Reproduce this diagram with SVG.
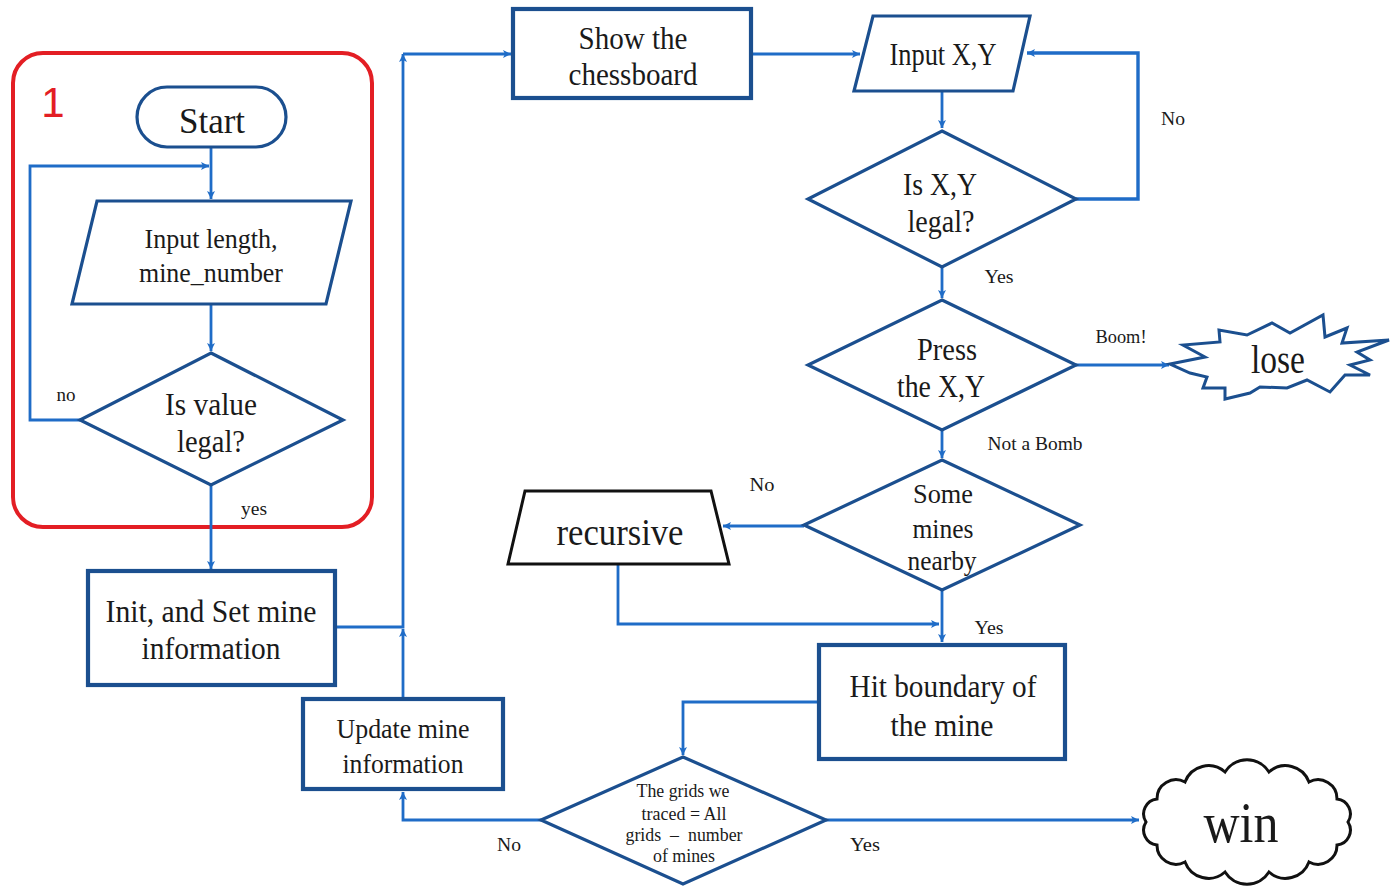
<svg xmlns="http://www.w3.org/2000/svg" width="1391" height="886" viewBox="0 0 1391 886">
<defs>
<marker id="ah" viewBox="0 0 10 10" refX="10" refY="5" markerWidth="9" markerHeight="8" markerUnits="userSpaceOnUse" orient="auto">
<path d="M0,0 L10,5 L0,10 L2.5,5 z" fill="#1f6cc7"/>
</marker>
<style>
.n{fill:#fff;stroke:#1b4f8f;stroke-width:3.2;stroke-linejoin:miter}
.b{fill:#fff;stroke:#1b4f8f;stroke-width:4.2}
.k{fill:#fff;stroke:#111;stroke-width:3}
.c{fill:none;stroke:#1f6cc7;stroke-width:2.8}
.a{marker-end:url(#ah)}
text{font-family:"Liberation Serif","Times New Roman",serif;fill:#1a1a1a;text-anchor:middle}
.t30{font-size:31px}
.t28{font-size:28px}
.t18{font-size:19px}
.t19{font-size:18px}
</style>
</defs>
<rect width="1391" height="886" fill="#fff"/>

<g id="group1">
<rect x="13" y="53" width="359" height="474" rx="30" fill="none" stroke="#e31e24" stroke-width="4"/>
<text x="53" y="117" style="font-family:'Liberation Sans',Arial,sans-serif;font-size:42px;fill:#e31e24">1</text>
</g>

<g id="connectors">
<path class="c a" d="M211,147 V199"/>
<path class="c a" d="M80,420 H30 V166 H209"/>
<path class="c a" d="M211,304 V351"/>
<path class="c a" d="M211,485 V569"/>
<path class="c a" d="M403,699 V629"/>
<path class="c a" d="M335,627 H403 V54"/>
<path class="c a" d="M403,54 H511"/>
<path class="c a" d="M751,54 H860"/>
<path class="c a" d="M942,91 V128"/>
<path class="c a" d="M1076,199 H1138 V53 H1027" style="stroke-width:3.4"/>
<path class="c a" d="M942,267 V298"/>
<path class="c a" d="M1076,365 H1169"/>
<path class="c a" d="M942,430 V458"/>
<path class="c a" d="M804,526 H723"/>
<path class="c a" d="M618,564 V624 H939"/>
<path class="c a" d="M942,590 V642"/>
<path class="c a" d="M819,702 H683 V755"/>
<path class="c a" d="M541,820 H403 V792"/>
<path class="c a" d="M826,820 H1139"/>
</g>

<g id="start">
<rect class="n" x="137" y="87" width="149" height="60" rx="30"/>
<text x="212" y="133" style="font-size:36px" textLength="66" lengthAdjust="spacingAndGlyphs">Start</text>
</g>

<g id="input-length">
<polygon class="n" points="97,201 351,201 326,304 72,304"/>
<text class="t28" x="211" y="248" textLength="133" lengthAdjust="spacingAndGlyphs">Input length,</text>
<text class="t28" x="211" y="282" textLength="144" lengthAdjust="spacingAndGlyphs">mine_number</text>
</g>

<g id="is-value-legal">
<polygon class="n" points="211,353 343,420 211,485 80,420"/>
<text class="t30" x="211" y="415" textLength="92" lengthAdjust="spacingAndGlyphs">Is value</text>
<text class="t30" x="211" y="452" textLength="68" lengthAdjust="spacingAndGlyphs">legal?</text>
</g>

<g id="labels">
<text class="t18" x="66" y="401" textLength="19" lengthAdjust="spacingAndGlyphs">no</text>
<text class="t18" x="254" y="515" textLength="26" lengthAdjust="spacingAndGlyphs">yes</text>
<text class="t18" x="1173" y="125" textLength="24" lengthAdjust="spacingAndGlyphs">No</text>
<text class="t18" x="999" y="283" textLength="29" lengthAdjust="spacingAndGlyphs">Yes</text>
<text class="t18" x="1121" y="343" textLength="51" lengthAdjust="spacingAndGlyphs">Boom!</text>
<text class="t18" x="1035" y="450" textLength="95" lengthAdjust="spacingAndGlyphs">Not a Bomb</text>
<text class="t18" x="762" y="491" textLength="25" lengthAdjust="spacingAndGlyphs">No</text>
<text class="t18" x="989" y="634" textLength="29" lengthAdjust="spacingAndGlyphs">Yes</text>
<text class="t18" x="509" y="851" textLength="24" lengthAdjust="spacingAndGlyphs">No</text>
<text class="t18" x="865" y="851" textLength="30" lengthAdjust="spacingAndGlyphs">Yes</text>
</g>

<g id="init">
<rect class="b" x="88" y="571" width="247" height="114"/>
<text class="t30" x="211" y="622" textLength="211" lengthAdjust="spacingAndGlyphs">Init, and Set mine</text>
<text class="t30" x="211" y="659" textLength="139" lengthAdjust="spacingAndGlyphs">information</text>
</g>

<g id="update">
<rect class="b" x="303" y="699" width="200" height="90"/>
<text class="t28" x="403" y="738" textLength="133" lengthAdjust="spacingAndGlyphs">Update mine</text>
<text class="t28" x="403" y="773" textLength="121" lengthAdjust="spacingAndGlyphs">information</text>
</g>

<g id="show">
<rect class="b" x="513" y="9" width="238" height="89"/>
<text class="t30" x="633" y="49" textLength="109" lengthAdjust="spacingAndGlyphs">Show the</text>
<text class="t30" x="633" y="85" textLength="129" lengthAdjust="spacingAndGlyphs">chessboard</text>
</g>

<g id="input-xy">
<polygon class="n" points="873,16 1030,16 1013,91 854,91"/>
<text class="t30" x="943" y="65" textLength="107" lengthAdjust="spacingAndGlyphs">Input X,Y</text>
</g>

<g id="is-xy-legal">
<polygon class="n" points="942,131 1076,199 942,267 808,199"/>
<text class="t30" x="940" y="195" textLength="74" lengthAdjust="spacingAndGlyphs">Is X,Y</text>
<text class="t30" x="941" y="232" textLength="67" lengthAdjust="spacingAndGlyphs">legal?</text>
</g>

<g id="press">
<polygon class="n" points="942,300 1076,365 942,430 808,365"/>
<text class="t30" x="947" y="360" textLength="60" lengthAdjust="spacingAndGlyphs">Press</text>
<text class="t30" x="941" y="397" textLength="88" lengthAdjust="spacingAndGlyphs">the X,Y</text>
</g>

<g id="lose">
<polygon class="n" style="stroke-width:3" points="1170,364 1205,357 1183,345 1220,342 1219,330 1247,335 1272,323 1290,333 1323,315 1325,337 1347,328 1342,343 1389,340 1357,352 1370,360 1350,365 1370,375 1345,375 1330,392 1307,380 1287,388 1260,387 1250,393 1225,399 1225,388 1203,388 1207,377 1190,373"/>
<text x="1278" y="373" style="font-size:40px" textLength="54" lengthAdjust="spacingAndGlyphs">lose</text>
</g>

<g id="some-mines">
<polygon class="n" points="942,460 1080,525 942,590 804,525"/>
<text class="t28" x="943" y="503" textLength="60" lengthAdjust="spacingAndGlyphs">Some</text>
<text class="t28" x="943" y="538" textLength="61" lengthAdjust="spacingAndGlyphs">mines</text>
<text class="t28" x="942" y="570" textLength="69" lengthAdjust="spacingAndGlyphs">nearby</text>
</g>

<g id="recursive">
<polygon class="k" points="525,491 711,491 729,564 508,564"/>
<text x="620" y="545" style="font-size:38px" textLength="127" lengthAdjust="spacingAndGlyphs">recursive</text>
</g>

<g id="hit-boundary">
<rect class="b" x="819" y="645" width="246" height="114"/>
<text class="t30" x="943" y="697" textLength="187" lengthAdjust="spacingAndGlyphs">Hit boundary of</text>
<text class="t30" x="942" y="736" textLength="103" lengthAdjust="spacingAndGlyphs">the mine</text>
</g>

<g id="grids-check">
<polygon class="n" points="683,757 826,820 683,884 541,820"/>
<text class="t19" x="683" y="797" textLength="93" lengthAdjust="spacingAndGlyphs">The grids we</text>
<text class="t19" x="684" y="820" textLength="85" lengthAdjust="spacingAndGlyphs">traced = All</text>
<text class="t19" x="684" y="841" textLength="117" lengthAdjust="spacingAndGlyphs">grids&#160; –&#160; number</text>
<text class="t19" x="684" y="862" textLength="62" lengthAdjust="spacingAndGlyphs">of mines</text>
</g>

<g id="win">
<path class="k" d="M1146,822 A15,15 0 0 1 1157,799 A19,19 0 0 1 1185,782 A25,25 0 0 1 1225,772 A26,26 0 0 1 1269,772 A25,25 0 0 1 1309,782 A19,19 0 0 1 1337,799 A15,15 0 0 1 1348,822 A15,15 0 0 1 1337,845 A19,19 0 0 1 1309,862 A25,25 0 0 1 1269,872 A26,26 0 0 1 1225,872 A25,25 0 0 1 1185,862 A19,19 0 0 1 1157,845 A15,15 0 0 1 1146,822 Z"/>
<text x="1241" y="842" style="font-size:56px" textLength="75" lengthAdjust="spacingAndGlyphs">win</text>
</g>
</svg>
